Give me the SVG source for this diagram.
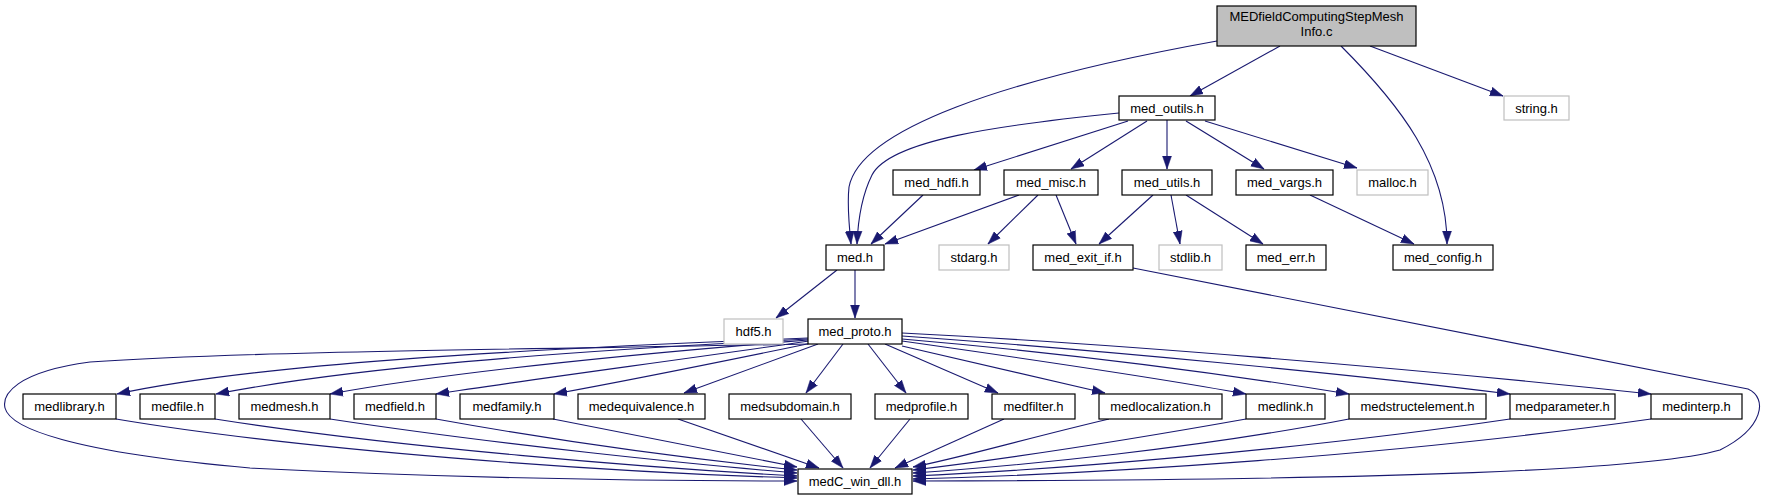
<svg xmlns="http://www.w3.org/2000/svg" width="1765" height="500" viewBox="0 0 1765 500">
<defs>
<marker id="arr" markerUnits="userSpaceOnUse" markerWidth="13" markerHeight="10" viewBox="0 0 13 10" refX="13" refY="5" orient="auto">
<path d="M0,0.5 L13,5 L0,9.5 z" fill="#191970" stroke="#191970" stroke-width="0.5"/>
</marker>
</defs>
<style>
.n rect{fill:#ffffff;stroke:#000000;stroke-width:1.2}
.g rect{fill:#ffffff;stroke:#bfbfbf;stroke-width:1.2}
.root rect{fill:#bfbfbf;stroke:#000000;stroke-width:1.2}
text{font-family:"Liberation Sans",Arial,sans-serif;font-size:13px;fill:#000000;text-anchor:middle}
#edges path{fill:none;stroke:#191970;stroke-width:1.1;marker-end:url(#arr)}
</style>
<rect width="1765" height="500" fill="#ffffff"/>
<g id="edges">
<path d="M1217,41 C1000,80 860,130 849,187 C847,205 849,225 851,244"/>
<path d="M1119,113 C1000,125 890,140 872,175 C862,195 858,220 857,244"/>
<path d="M1280,46 L1190,96"/>
<path d="M1370,46 L1503,96"/>
<path d="M1341,46 C1400,105 1447,165 1447,244"/>
<path d="M1128,121 L974,170"/>
<path d="M1147,121 L1071,169"/>
<path d="M1167,120 L1167,169"/>
<path d="M1186,121 L1264,169"/>
<path d="M1205,121 L1357,168"/>
<path d="M923,195 L871,244"/>
<path d="M1019,195 L885,244"/>
<path d="M1038,195 L988,244"/>
<path d="M1056,195 L1076,244"/>
<path d="M1153,195 L1099,244"/>
<path d="M1171,195 L1180,244"/>
<path d="M1186,195 L1263,244"/>
<path d="M1310,195 L1414,244"/>
<path d="M837,270 L776,318"/>
<path d="M855,270 L855,318"/>
<path d="M1133,268 L1748,389 C1768,398 1764,428 1720,450 C1650,470 1400,480 913,481"/>
<path d="M808,344 C550,349 250,351 90,362 C15,372 2,395 5,408 C10,428 70,452 250,468 C450,478 650,481 797,481"/>
<path d="M808,338 C500,350 250,365 117,394"/>
<path d="M808,339 C550,352 350,368 216,394"/>
<path d="M808,340 C620,355 450,372 330,394"/>
<path d="M809,341 C680,360 540,378 436,394"/>
<path d="M812,343 C720,362 620,382 554,394"/>
<path d="M818,344 L684,393"/>
<path d="M843,344 L806,393"/>
<path d="M868,344 L906,393"/>
<path d="M885,344 L998,393"/>
<path d="M902,346 L1105,393"/>
<path d="M902,341 C1050,362 1170,380 1246,394"/>
<path d="M902,339 C1100,356 1250,378 1349,394"/>
<path d="M902,336 C1100,350 1350,374 1510,394"/>
<path d="M902,333 C1100,343 1400,367 1651,394"/>
<path d="M116,419 C300,450 600,472 797,478"/>
<path d="M215,419 C400,448 650,468 797,476"/>
<path d="M330,419 C500,445 700,465 797,473"/>
<path d="M436,419 C580,445 720,462 797,470"/>
<path d="M553,419 C660,440 750,458 797,467"/>
<path d="M678,419 L819,468"/>
<path d="M801,419 L843,468"/>
<path d="M910,419 L870,468"/>
<path d="M1004,419 L895,468"/>
<path d="M1109,419 C1020,440 960,458 913,467"/>
<path d="M1246,419 C1100,445 980,462 913,470"/>
<path d="M1349,419 C1200,448 1020,466 913,473"/>
<path d="M1510,419 C1300,450 1050,470 913,476"/>
<path d="M1651,419 C1400,455 1100,474 913,479"/>
</g>
<g id="node-root" class="root"><rect x="1217" y="6" width="199" height="40"/><text x="1316.5" y="21">MEDfieldComputingStepMesh</text><text x="1316.5" y="36">Info.c</text></g>
<g id="node-med_outils" class="n"><rect x="1119" y="96" width="96" height="24"/><text x="1167" y="112.5">med_outils.h</text></g>
<g id="node-string" class="g"><rect x="1504" y="96" width="65" height="24"/><text x="1536.5" y="112.5">string.h</text></g>
<g id="node-med_hdfi" class="n"><rect x="893" y="170" width="87" height="25"/><text x="936.5" y="187">med_hdfi.h</text></g>
<g id="node-med_misc" class="n"><rect x="1004" y="170" width="94" height="25"/><text x="1051" y="187">med_misc.h</text></g>
<g id="node-med_utils" class="n"><rect x="1122" y="170" width="90" height="25"/><text x="1167" y="187">med_utils.h</text></g>
<g id="node-med_vargs" class="n"><rect x="1236" y="170" width="97" height="25"/><text x="1284.5" y="187">med_vargs.h</text></g>
<g id="node-malloc" class="g"><rect x="1357" y="170" width="71" height="25"/><text x="1392.5" y="187">malloc.h</text></g>
<g id="node-med" class="n"><rect x="826" y="245" width="58" height="25"/><text x="855" y="262">med.h</text></g>
<g id="node-stdarg" class="g"><rect x="939" y="245" width="70" height="25"/><text x="974" y="262">stdarg.h</text></g>
<g id="node-med_exit_if" class="n"><rect x="1033" y="245" width="100" height="25"/><text x="1083" y="262">med_exit_if.h</text></g>
<g id="node-stdlib" class="g"><rect x="1159" y="245" width="63" height="25"/><text x="1190.5" y="262">stdlib.h</text></g>
<g id="node-med_err" class="n"><rect x="1246" y="245" width="80" height="25"/><text x="1286" y="262">med_err.h</text></g>
<g id="node-med_config" class="n"><rect x="1393" y="245" width="100" height="25"/><text x="1443" y="262">med_config.h</text></g>
<g id="node-hdf5" class="g"><rect x="724" y="319" width="59" height="25"/><text x="753.5" y="336">hdf5.h</text></g>
<g id="node-med_proto" class="n"><rect x="808" y="319" width="94" height="25"/><text x="855" y="336">med_proto.h</text></g>
<g id="node-medlibrary" class="n"><rect x="23" y="394" width="93" height="25"/><text x="69.5" y="411">medlibrary.h</text></g>
<g id="node-medfile" class="n"><rect x="140" y="394" width="75" height="25"/><text x="177.5" y="411">medfile.h</text></g>
<g id="node-medmesh" class="n"><rect x="239" y="394" width="91" height="25"/><text x="284.5" y="411">medmesh.h</text></g>
<g id="node-medfield" class="n"><rect x="354" y="394" width="82" height="25"/><text x="395" y="411">medfield.h</text></g>
<g id="node-medfamily" class="n"><rect x="460" y="394" width="94" height="25"/><text x="507" y="411">medfamily.h</text></g>
<g id="node-medequivalence" class="n"><rect x="578" y="394" width="127" height="25"/><text x="641.5" y="411">medequivalence.h</text></g>
<g id="node-medsubdomain" class="n"><rect x="729" y="394" width="122" height="25"/><text x="790" y="411">medsubdomain.h</text></g>
<g id="node-medprofile" class="n"><rect x="875" y="394" width="93" height="25"/><text x="921.5" y="411">medprofile.h</text></g>
<g id="node-medfilter" class="n"><rect x="992" y="394" width="83" height="25"/><text x="1033.5" y="411">medfilter.h</text></g>
<g id="node-medlocalization" class="n"><rect x="1099" y="394" width="123" height="25"/><text x="1160.5" y="411">medlocalization.h</text></g>
<g id="node-medlink" class="n"><rect x="1246" y="394" width="79" height="25"/><text x="1285.5" y="411">medlink.h</text></g>
<g id="node-medstructelement" class="n"><rect x="1349" y="394" width="137" height="25"/><text x="1417.5" y="411">medstructelement.h</text></g>
<g id="node-medparameter" class="n"><rect x="1510" y="394" width="105" height="25"/><text x="1562.5" y="411">medparameter.h</text></g>
<g id="node-medinterp" class="n"><rect x="1651" y="394" width="91" height="25"/><text x="1696.5" y="411">medinterp.h</text></g>
<g id="node-medC_win_dll" class="n"><rect x="798" y="469" width="114" height="25"/><text x="855" y="486">medC_win_dll.h</text></g>
</svg>
